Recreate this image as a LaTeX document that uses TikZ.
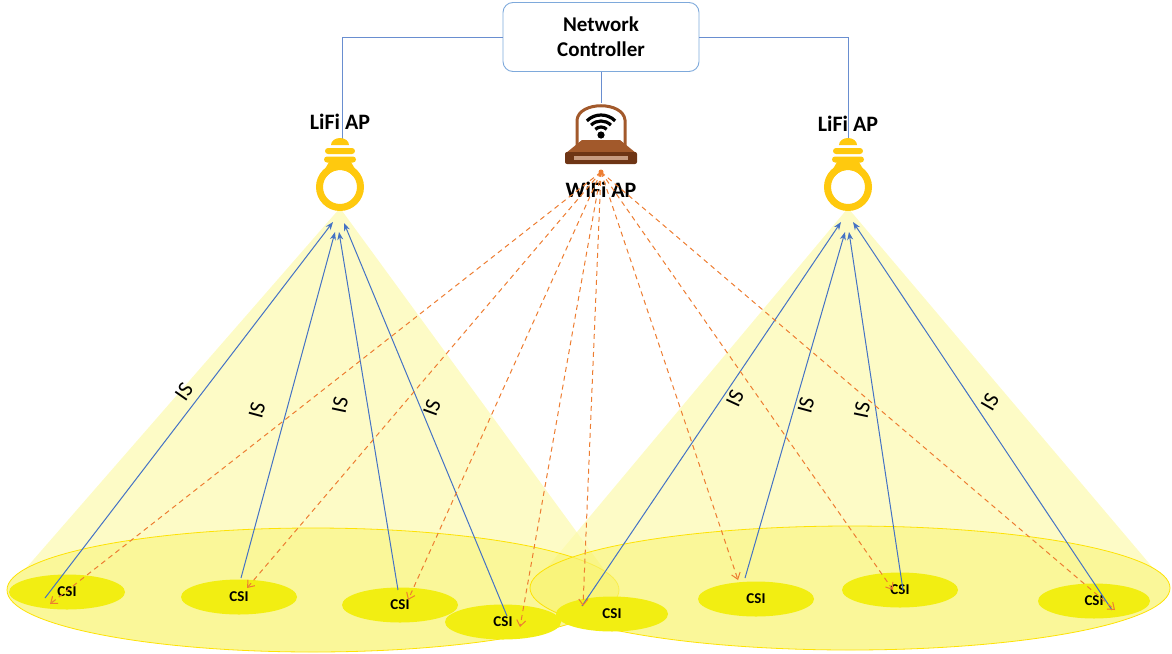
\documentclass[tikz,border=0pt]{standalone}
\usepackage{fontspec}
\setmainfont{Carlito}
\usetikzlibrary{arrows.meta,shapes.geometric}

\definecolor{isblue}{HTML}{4472C4}
\definecolor{wifiorange}{HTML}{ED7D31}
\definecolor{ctrlblue}{HTML}{7EA9DB}
\definecolor{lampgold}{HTML}{FFC90E}
\definecolor{csiyellow}{HTML}{F2EE12}
\definecolor{coneyellow}{HTML}{FCF9A8}
\definecolor{spotyellow}{HTML}{F8F36E}
\definecolor{routerbrown}{HTML}{A2592B}
\definecolor{routerdark}{HTML}{6E3515}

\tikzset{csi/.style={ellipse,fill=csiyellow,minimum width=116pt,minimum height=35pt,
    inner sep=0pt,font=\fontsize{15}{15}\selectfont\bfseries},
  aplabel/.style={font=\fontsize{22}{22}\selectfont\bfseries},
  islabel/.style={font=\fontsize{22}{22}\selectfont},
  isline/.style={isblue,line width=1pt,-{Stealth[length=8pt,width=6pt]}},
  wifiline/.style={wifiorange,line width=1pt,dash pattern=on 5pt off 4pt,
    -{Straight Barb[length=6pt,width=9pt]}},
  ctrlline/.style={isblue!80,line width=0.7pt},
  spot/.style={fill=spotyellow,fill opacity=0.7,draw=yellow!85!orange,line width=0.8pt}}

\begin{document}
\begin{tikzpicture}[x=1pt,y=-1pt]
\useasboundingbox (0,0) rectangle (1172,653);

% light cones (kept off their own floor area) and lit floor areas
\begin{scope}[even odd rule]
  \clip (0,0) rectangle (1172,653) (313,590) ellipse (306 and 62);
  \fill[coneyellow,opacity=0.65] (340,208) -- (7,590) -- (619,590) -- cycle;
\end{scope}
\begin{scope}[even odd rule]
  \clip (0,0) rectangle (1172,653) (850,588) ellipse (320 and 62);
  \fill[coneyellow,opacity=0.65] (848,208) -- (530,588) -- (1170,588) -- cycle;
\end{scope}
\filldraw[spot] (313,590) ellipse (306 and 62);
\filldraw[spot] (850,588) ellipse (320 and 62);

% users
\node[csi] (csi1) at (67,592) {CSI};
\node[csi] (csi2) at (239,597) {CSI};
\node[csi] (csi3) at (400,605) {CSI};
\node[csi] (csi4) at (503,622) {CSI};
\node[csi,minimum width=112pt] (csi5) at (612,614) {CSI};
\node[csi] (csi6) at (756,599) {CSI};
\node[csi] (csi7) at (900,590) {CSI};
\node[csi,minimum width=112pt] (csi8) at (1094,601) {CSI};

% controller and access points
\node[draw=ctrlblue,line width=0.9pt,rounded corners=10pt,minimum width=196pt,
  minimum height=69pt,align=center,aplabel,font=\fontsize{21}{21}\selectfont\bfseries]
  (ctrl) at (601,37) {Network\\[4pt]Controller};
\node[aplabel] (lifiL) at (340,122) {LiFi AP};
\node[aplabel] (lifiR) at (848,124) {LiFi AP};
\node[aplabel] (wifiAP) at (601,190) {WiFi AP};
\coordinate (lampL) at (342,140);
\coordinate (lampR) at (848,140);
\coordinate (router) at (601,103);
\coordinate (wifi) at (601,172);

\draw[ctrlline] (ctrl.west) -| (lampL);
\draw[ctrlline] (ctrl.east) -| (lampR);
\draw[ctrlline] (ctrl.south) -- (router);

% bulbs
\foreach \x in {340,848}{
  \fill[lampgold] (\x-9,145) arc[start angle=180,end angle=360,x radius=9,y radius=7] -- cycle;
  \fill[lampgold,rounded corners=3pt] (\x-15,148) rectangle (\x+15,154);
  \fill[lampgold,rounded corners=3pt] (\x-16,156.5) rectangle (\x+16,162.5);
  \fill[lampgold] (\x-11,162) -- (\x+11,162) -- (\x+19,176) -- (\x-19,176) -- cycle;
  \fill[white] (\x,187) circle (17);
  \draw[lampgold,line width=7pt] (\x,187) circle (20.5);
}

% router
\draw[routerbrown,line width=3pt] (577,146) -- (577,120)
  .. controls (579,101) and (623,101) .. (625,120) -- (625,146);
\foreach \r in {8,14,20}
  \draw[black,line width=3.2pt] (601,135) ++(225:\r) arc[start angle=225,end angle=315,radius=\r];
\fill[black] (601,135) circle (3.6);
\fill[routerbrown] (582,140) -- (620,140) -- (636,153) -- (566,153) -- cycle;
\fill[routerdark,rounded corners=2pt] (565,152) rectangle (637,164);
\fill[routerbrown!60] (574,156) rectangle (628,160);
\fill[wifiorange] (wifi) circle (2.5);

% information signalling, uplink
\coordinate (s1) at (45,598);   \coordinate (tL1) at (333,222);
\coordinate (s2) at (241,578);  \coordinate (tL2) at (335,232);
\coordinate (s3) at (398,590);  \coordinate (tL3) at (339,232);
\coordinate (s4) at (507,616);  \coordinate (tL4) at (344,223);
\coordinate (s5) at (582,606);  \coordinate (tR1) at (841,222);
\coordinate (s6) at (745,578);  \coordinate (tR2) at (845,232);
\coordinate (s7) at (903,590);  \coordinate (tR3) at (849,232);
\coordinate (s8) at (1112,610); \coordinate (tR4) at (853,222);
\draw[isline] (s1) -- (tL1);
\draw[isline] (s2) -- (tL2);
\draw[isline] (s3) -- (tL3);
\draw[isline] (s4) -- (tL4);
\draw[isline] (s5) -- (tR1);
\draw[isline] (s6) -- (tR2);
\draw[isline] (s7) -- (tR3);
\draw[isline] (s8) -- (tR4);

% channel state over WiFi, downlink
\coordinate (e1) at (50,604);
\coordinate (e2) at (247,588);
\coordinate (e3) at (408,600);
\coordinate (e4) at (520,627);
\coordinate (e5) at (583,606);
\coordinate (e6) at (738,580);
\coordinate (e7) at (893,590);
\coordinate (e8) at (1115,610);
\foreach \e in {e1,e2,e3,e4,e5,e6,e7,e8}
  \draw[wifiline] (wifi) -- (\e);

% IS labels
\node[islabel,rotate=55] (is1) at (184,392) {IS};
\node[islabel,rotate=75] (is2) at (257,410) {IS};
\node[islabel,rotate=78] (is3) at (340,405) {IS};
\node[islabel,rotate=70] (is4) at (432,408) {IS};
\node[islabel,rotate=65] (is5) at (735,398) {IS};
\node[islabel,rotate=75] (is6) at (806,405) {IS};
\node[islabel,rotate=78] (is7) at (862,410) {IS};
\node[islabel,rotate=60] (is8) at (990,402) {IS};
\end{tikzpicture}
\end{document}
